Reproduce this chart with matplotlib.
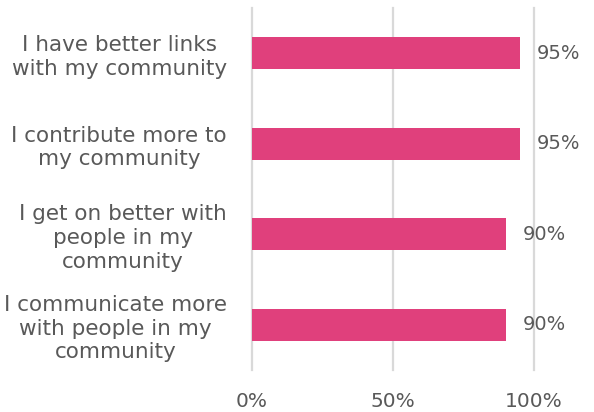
import matplotlib
matplotlib.use("Agg")
import matplotlib.pyplot as plt

# survey statements, top to bottom
labels = ["I have better links\nwith my community",
          "I contribute more to\nmy community",
          "I get on better with\npeople in my\ncommunity",
          "I communicate more\nwith people in my\ncommunity"]
values = [95, 95, 90, 90]
ticks = [0, 50, 100]
tick_labels = ["0%", "50%", "100%"]

plt.rcParams['font.family'] = ['DejaVu Sans']
text_col = "#595959"
bar_col = "#E0407C"

fig = plt.figure(figsize=(5.94, 4.12), dpi=100)
ax = fig.add_axes([252/594, 1 - 370/412, (533.7 - 252)/594, (370 - 8)/412])

pos = list(range(len(labels)))
ax.barh(pos, values, height=0.35, color=bar_col, zorder=3)
for p, v in zip(pos, values):
    ax.text(v + 6, p, f"{v}%", va="center", ha="left", fontsize=14, color=text_col)

ax.set_xlim(0, 100)
ax.set_ylim(len(labels) - 0.5, -0.5)
ax.set_yticks(pos)
ax.set_yticklabels(labels, fontsize=15.5, color=text_col, multialignment="center",
                   linespacing=1.22)
ax.set_xticks(ticks)
ax.set_xticklabels(tick_labels, fontsize=14.5, color=text_col)
ax.tick_params(axis="both", length=0)
ax.tick_params(axis="y", pad=18)
ax.tick_params(axis="x", pad=16)
ax.grid(axis="x", color="#d9d9d9", linewidth=1.6, zorder=0)
ax.grid(axis="y", visible=False)
for gl in ax.get_xgridlines():
    gl.set_clip_on(False)
for s in ax.spines.values():
    s.set_visible(False)

fig.savefig("out.png", dpi=100)
